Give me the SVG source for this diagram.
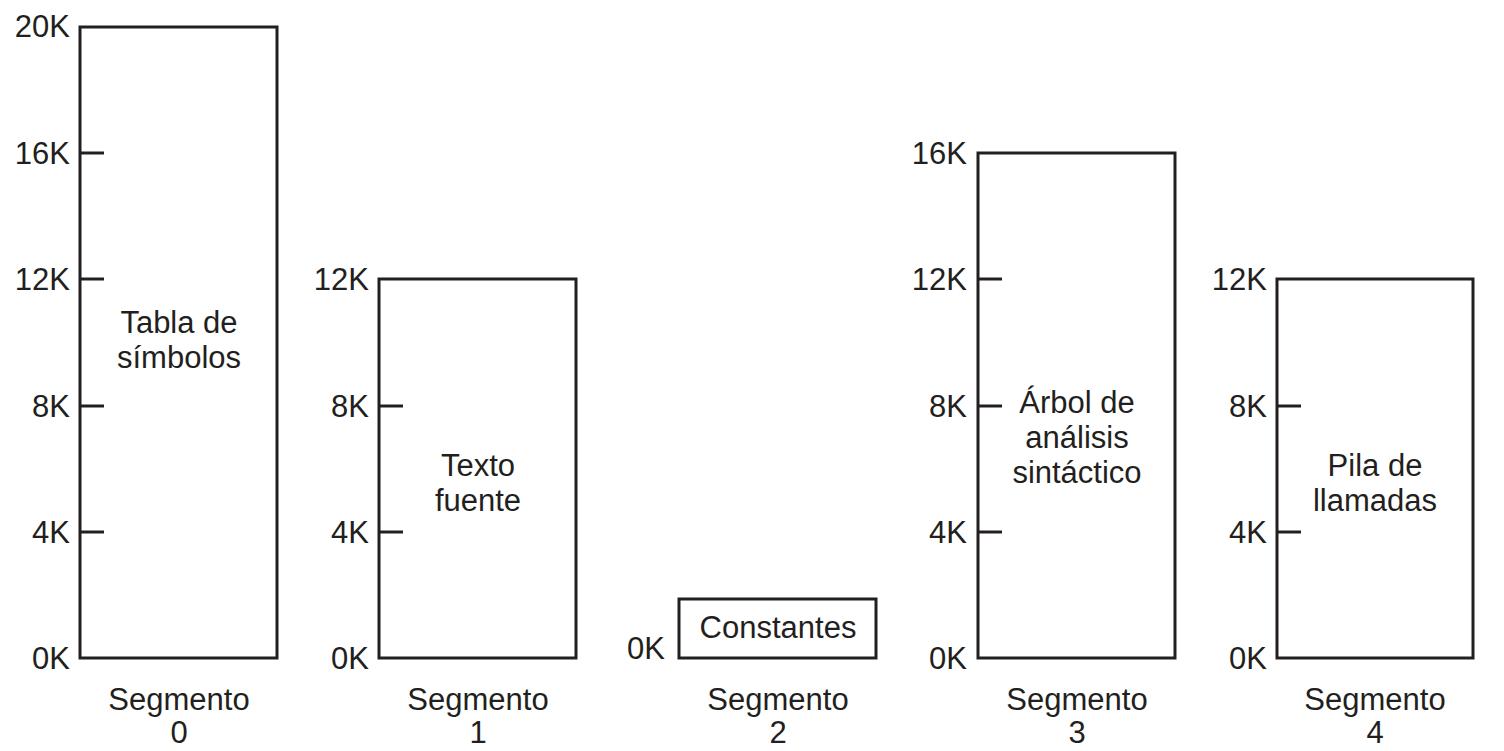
<svg xmlns="http://www.w3.org/2000/svg" width="1504" height="751" viewBox="0 0 1504 751">
<style>
text{font-family:"Liberation Sans",Arial,sans-serif;font-size:31px;fill:#231f20}
.c{text-anchor:middle}
.r{text-anchor:end}
.box{fill:none;stroke:#231f20;stroke-width:3}
.tick{stroke:#231f20;stroke-width:3}
</style>
<rect width="1504" height="751" fill="#fff"/>
<g id="seg0">
<rect class="box" x="80" y="27" width="197" height="631"/>
<g class="tick"><line x1="80" y1="153" x2="104" y2="153"/><line x1="80" y1="279" x2="104" y2="279"/><line x1="80" y1="406" x2="104" y2="406"/><line x1="80" y1="532" x2="104" y2="532"/></g>
<text class="r" x="70" y="37">20K</text>
<text class="r" x="70" y="164">16K</text>
<text class="r" x="70" y="290">12K</text>
<text class="r" x="70" y="417">8K</text>
<text class="r" x="70" y="543">4K</text>
<text class="r" x="70" y="669">0K</text>
<text class="c" x="179" y="333">Tabla de</text>
<text class="c" x="179" y="368">símbolos</text>
<text class="c" x="179" y="710">Segmento</text>
<text class="c" x="179" y="743">0</text>
</g>
<g id="seg1">
<rect class="box" x="379" y="279" width="197" height="379"/>
<g class="tick"><line x1="379" y1="406" x2="403" y2="406"/><line x1="379" y1="532" x2="403" y2="532"/></g>
<text class="r" x="369" y="290">12K</text>
<text class="r" x="369" y="417">8K</text>
<text class="r" x="369" y="543">4K</text>
<text class="r" x="369" y="669">0K</text>
<text class="c" x="478" y="476">Texto</text>
<text class="c" x="478" y="511">fuente</text>
<text class="c" x="478" y="710">Segmento</text>
<text class="c" x="478" y="743">1</text>
</g>
<g id="seg2">
<rect class="box" x="679" y="599" width="197" height="59"/>
<text class="r" x="665" y="659">0K</text>
<text class="c" x="778" y="638">Constantes</text>
<text class="c" x="778" y="710">Segmento</text>
<text class="c" x="778" y="743">2</text>
</g>
<g id="seg3">
<rect class="box" x="978" y="153" width="197" height="505"/>
<g class="tick"><line x1="978" y1="279" x2="1002" y2="279"/><line x1="978" y1="406" x2="1002" y2="406"/><line x1="978" y1="532" x2="1002" y2="532"/></g>
<text class="r" x="967" y="164">16K</text>
<text class="r" x="967" y="290">12K</text>
<text class="r" x="967" y="417">8K</text>
<text class="r" x="967" y="543">4K</text>
<text class="r" x="967" y="669">0K</text>
<text class="c" x="1077" y="413">Árbol de</text>
<text class="c" x="1077" y="448">análisis</text>
<text class="c" x="1077" y="483">sintáctico</text>
<text class="c" x="1077" y="710">Segmento</text>
<text class="c" x="1077" y="743">3</text>
</g>
<g id="seg4">
<rect class="box" x="1277" y="279" width="196" height="379"/>
<g class="tick"><line x1="1277" y1="406" x2="1301" y2="406"/><line x1="1277" y1="532" x2="1301" y2="532"/></g>
<text class="r" x="1267" y="290">12K</text>
<text class="r" x="1267" y="417">8K</text>
<text class="r" x="1267" y="543">4K</text>
<text class="r" x="1267" y="669">0K</text>
<text class="c" x="1375" y="476">Pila de</text>
<text class="c" x="1375" y="511">llamadas</text>
<text class="c" x="1375" y="710">Segmento</text>
<text class="c" x="1375" y="743">4</text>
</g>
<g id="connectors"/>
</svg>
